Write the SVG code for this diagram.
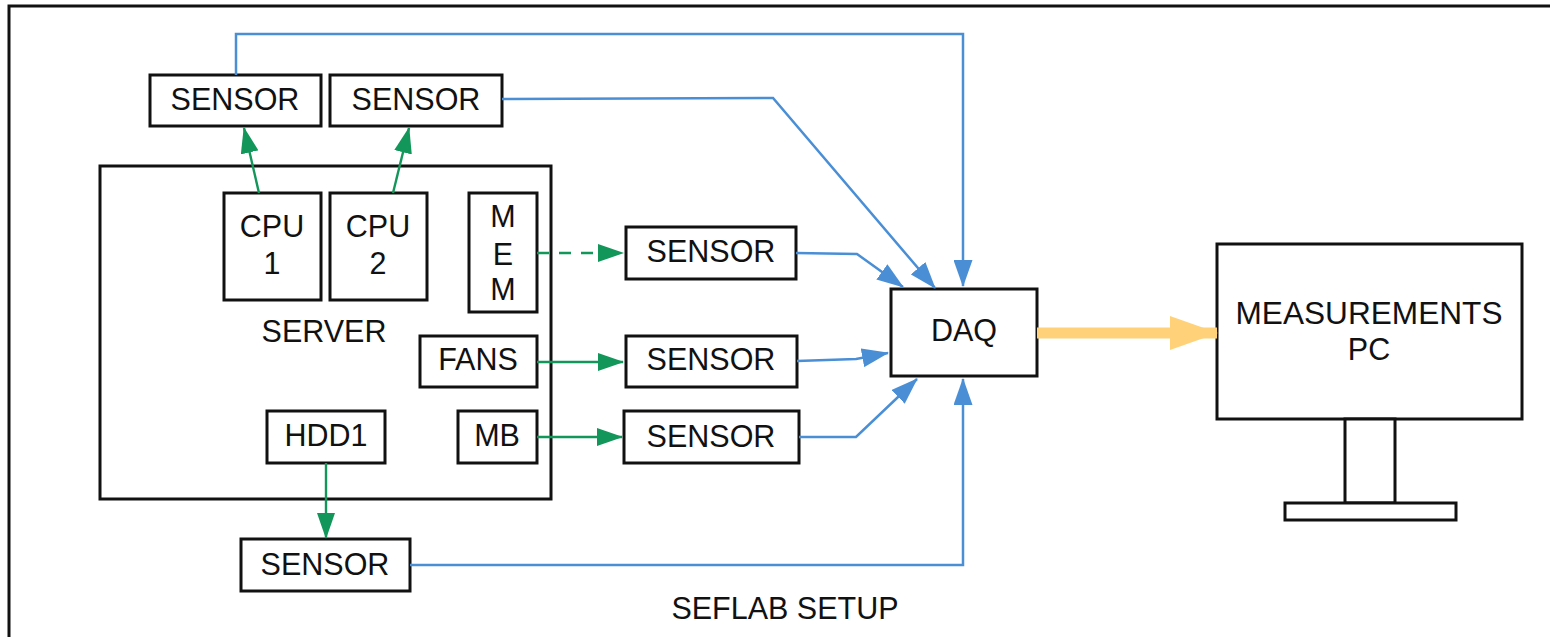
<svg xmlns="http://www.w3.org/2000/svg" width="1550" height="637" viewBox="0 0 1550 637">
<style>
.box{fill:#fff;stroke:#111;stroke-width:3}
.t{font-family:"Liberation Sans",Arial,sans-serif;font-size:30.5px;fill:#111;text-anchor:middle}
.g{fill:none;stroke:#12965a;stroke-width:2.4}
.b{fill:none;stroke:#4a8fd6;stroke-width:2.5}
</style>
<defs>
<marker id="ag" markerWidth="26" markerHeight="18" refX="25" refY="9" orient="auto" markerUnits="userSpaceOnUse"><path d="M0,0 L26,9 L0,18 Z" fill="#12965a"/></marker>
<marker id="ab" markerWidth="27" markerHeight="19" refX="26" refY="9.5" orient="auto" markerUnits="userSpaceOnUse"><path d="M0,0 L27,9.5 L0,19 Z" fill="#4a8fd6"/></marker>
<marker id="ay" markerWidth="48" markerHeight="34" refX="47" refY="17" orient="auto" markerUnits="userSpaceOnUse"><path d="M0,0 L48,17 L0,34 Z" fill="#ffd27a"/></marker>
</defs>
<rect width="1550" height="637" fill="#fff"/>
<path d="M9,640 V6 H1552" fill="none" stroke="#111" stroke-width="3"/>

<g id="server"><rect class="box" x="100" y="166" width="451" height="333"/><text class="t" x="324" y="342">SERVER</text></g>
<g id="sensor-cpu1"><rect class="box" x="150" y="75" width="171" height="51"/><text class="t" x="235" y="110">SENSOR</text></g>
<g id="sensor-cpu2"><rect class="box" x="330" y="75" width="172" height="51"/><text class="t" x="416" y="110">SENSOR</text></g>
<g id="cpu1"><rect class="box" x="224" y="193" width="97" height="107"/><text class="t" x="272" y="237">CPU</text><text class="t" x="272" y="274">1</text></g>
<g id="cpu2"><rect class="box" x="330" y="193" width="97" height="107"/><text class="t" x="378" y="237">CPU</text><text class="t" x="378" y="274">2</text></g>
<g id="mem"><rect class="box" x="469" y="193" width="68" height="119"/><text class="t" x="503" y="227">M</text><text class="t" x="503" y="265">E</text><text class="t" x="503" y="300">M</text></g>
<g id="fans"><rect class="box" x="420" y="336" width="117" height="51"/><text class="t" x="478" y="370">FANS</text></g>
<g id="mb"><rect class="box" x="458" y="411" width="79" height="52"/><text class="t" x="497" y="446">MB</text></g>
<g id="hdd1"><rect class="box" x="267" y="411" width="118" height="52"/><text class="t" x="326" y="446">HDD1</text></g>
<g id="sensor-mem"><rect class="box" x="626" y="227" width="170" height="52"/><text class="t" x="711" y="262">SENSOR</text></g>
<g id="sensor-fans"><rect class="box" x="626" y="336" width="171" height="51"/><text class="t" x="711" y="370">SENSOR</text></g>
<g id="sensor-mb"><rect class="box" x="624" y="411" width="175" height="52"/><text class="t" x="711" y="447">SENSOR</text></g>
<g id="sensor-hdd"><rect class="box" x="241" y="539" width="169" height="52"/><text class="t" x="325" y="575">SENSOR</text></g>
<g id="daq"><rect class="box" x="891" y="289" width="146" height="87"/><text class="t" x="964" y="341">DAQ</text></g>
<g id="pc"><rect class="box" x="1217" y="244" width="305" height="175"/><text class="t" x="1369" y="324" textLength="267" lengthAdjust="spacingAndGlyphs">MEASUREMENTS</text><text class="t" x="1369" y="360">PC</text>
<rect class="box" x="1345" y="419" width="50" height="84"/><rect class="box" x="1285" y="503" width="171" height="17"/></g>
<g id="label"><text class="t" x="785" y="619">SEFLAB SETUP</text></g>

<g id="connectors">
<path class="g" d="M259,193 L244,128" marker-end="url(#ag)"/>
<path class="g" d="M393,193 L409,128" marker-end="url(#ag)"/>
<path class="g" d="M537,253 H623" stroke-dasharray="12,10" marker-end="url(#ag)"/>
<path class="g" d="M537,362 H623" marker-end="url(#ag)"/>
<path class="g" d="M537,437 H622" marker-end="url(#ag)"/>
<path class="g" d="M326,463 V538" marker-end="url(#ag)"/>
<path class="b" d="M236,75 V34 H963 V286" marker-end="url(#ab)"/>
<path class="b" d="M502,99 L773,98 L935,288" marker-end="url(#ab)"/>
<path class="b" d="M796,253 L857,254 L903,287" marker-end="url(#ab)"/>
<path class="b" d="M797,361 L856,359 L888,353" marker-end="url(#ab)"/>
<path class="b" d="M799,437 L856,437 L917,379" marker-end="url(#ab)"/>
<path class="b" d="M410,565 H963 V379" marker-end="url(#ab)"/>
<path d="M1037,333 H1217" fill="none" stroke="#ffd27a" stroke-width="11" marker-end="url(#ay)"/>
</g>
</svg>
